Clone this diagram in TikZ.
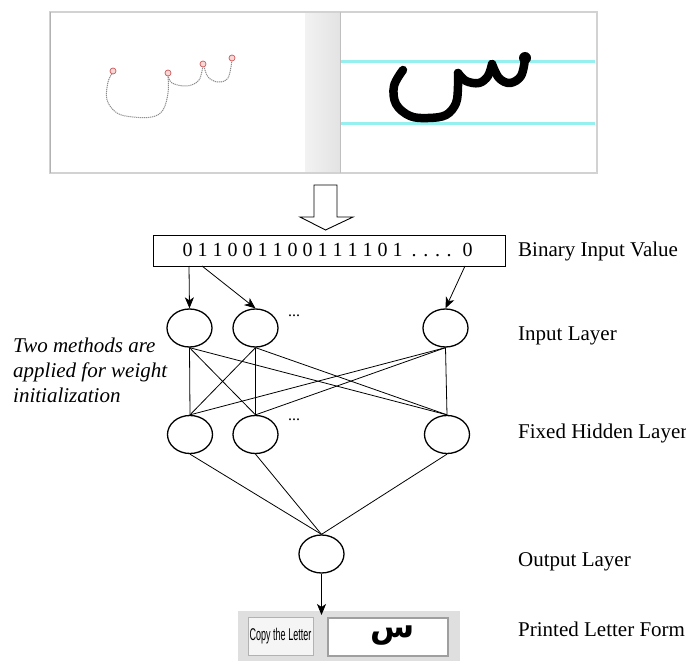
\documentclass[tikz,border=0pt]{standalone}
\usepackage{fontspec}
\setmainfont{Liberation Serif}
\newfontfamily\arabicfont[Script=Arabic]{DejaVu Sans}
\newfontfamily\guifont{Liberation Sans}
\TeXXeTstate=1
\usetikzlibrary{shapes.geometric,arrows.meta}
\definecolor{guideline}{RGB}{150,240,240}
\definecolor{penred}{RGB}{205,90,90}
\definecolor{penpink}{RGB}{250,215,215}
\begin{document}
\begin{tikzpicture}[x=1pt,y=-1pt,
  neuron/.style={draw, ellipse, line width=1.3pt, minimum width=45pt, minimum height=38pt, inner sep=0pt},
  wire/.style={line width=0.8pt},
  feed/.style={line width=0.8pt, -{Stealth[length=11pt,width=9pt,inset=3pt]}},
  lbl/.style={anchor=base west, inner sep=0pt, font=\fontsize{21}{24}\selectfont},
  note/.style={anchor=base west, inner sep=0pt, font=\fontsize{21}{24}\selectfont\itshape},
  dots/.style={anchor=base west, inner sep=0pt, font=\fontsize{16}{18}\selectfont},
  ink/.style={line width=8.5pt, line cap=round, line join=round, black},
  trace/.style={line width=1pt, gray!90, dash pattern=on 1.2pt off 0.8pt},
  penmark/.style={draw=penred, fill=penpink, line width=0.7pt}
]
\useasboundingbox (0,0) rectangle (686,661);

% ---------- top panels ----------
\fill[white] (50,12) rectangle (597,173);
\shade[left color=gray!10, right color=gray!22] (305,12) rectangle (340,173);
\draw[gray!35, line width=1.8pt] (50,12) rectangle (597,173);
\draw[gray!60, line width=1.2pt] (50.5,12) -- (50.5,173);
\draw[gray!50, line width=1pt] (340.5,12) -- (340.5,173);

% guide lines
\draw[guideline, line width=3pt] (341,62) -- (595,62);
\draw[guideline, line width=3pt] (341,123) -- (595,123);

% handwritten letter (right)
\draw[ink] plot[smooth, tension=0.6] coordinates {(403,70) (394,86) (396,104) (410,116) (428,118) (446,115) (456,103) (458,86) (458,73)};
\draw[ink] plot[smooth, tension=0.6] coordinates {(458,73) (466,81) (479,83) (488,76) (492,64)};
\draw[ink] plot[smooth, tension=0.6] coordinates {(492,64) (499,78) (510,83) (521,76) (525,59)};
\fill[black] (525,58) circle (6);

% traced letter (left)
\draw[trace] plot[smooth, tension=0.6] coordinates {(113,72) (108,82) (107,100) (117,113) (133,117) (152,117) (163,110) (168,93) (168,75)};
\draw[trace] plot[smooth, tension=0.6] coordinates {(168,75) (172,83) (187,86) (199,80) (203,65)};
\draw[trace] plot[smooth, tension=0.6] coordinates {(204,66) (208,77) (218,82) (228,78) (232,60)};
\draw[penmark] (113,71) circle (3);
\draw[penmark] (168,73) circle (3);
\draw[penmark] (203,64) circle (3);
\draw[penmark] (232,58) circle (3);

% hollow arrow
\draw[line width=0.9pt, fill=white] (314,185) -- (337,185) -- (337,217) -- (353,217) -- (325.5,230) -- (300,217) -- (314,217) -- cycle;

% ---------- binary input ----------
\node[draw, line width=0.9pt, minimum width=352pt, minimum height=31pt, inner sep=0pt] (bin) at (329,250.5) {};
\node[anchor=base west, inner sep=0pt, font=\fontsize{20}{22}\selectfont] (bits) at (182.5,256)
  {0 1 1 0 0 1 1 0 0 1 1 1 1 0 1\hspace{9pt}. . . .\hspace{11pt}0};
\coordinate (b1) at (189,266);
\coordinate (b2) at (202,266);
\coordinate (b3) at (465,266);

% ---------- network ----------
\node[neuron] (i1) at (189.5,328) {};
\node[neuron] (i2) at (255.5,328) {};
\node[neuron] (i3) at (445.5,328) {};
\node[neuron] (h1) at (190,434.5) {};
\node[neuron] (h2) at (255.5,434.5) {};
\node[neuron] (h3) at (447,434.5) {};
\node[neuron] (o) at (321.5,554) {};
\node[dots] (d1) at (288,316) {...};
\node[dots] (d2) at (288,420) {...};

\draw[feed] (b1) -- (i1.north);
\draw[feed] (b2) -- (i2.north);
\draw[feed] (b3) -- (i3.north);

\foreach \a in {i1,i2,i3}{
  \foreach \b in {h1,h2,h3}{
    \draw[wire] (\a.south) -- (\b.north);
  }
}
\foreach \a in {h1,h2,h3}{
  \draw[wire] (\a.south) -- (o.north);
}

% ---------- output GUI ----------
\node[fill=gray!25, minimum width=222pt, minimum height=50pt, inner sep=0pt] (gui) at (349,636) {};
\node[draw=gray!60, fill=gray!8, line width=0.9pt, minimum width=65pt, minimum height=38pt, inner sep=0pt] (btn) at (280.5,636)
  {\guifont\fontsize{17}{19}\selectfont\scalebox{0.53}[1]{Copy the Letter}};
\node[draw=gray!75, fill=white, line width=1.2pt, minimum width=120pt, minimum height=38pt, inner sep=0pt] (tbox) at (388,637) {};
\node[inner sep=0pt, font=\arabicfont\bfseries\fontsize{32}{34}\selectfont] (letter) at (393,636) {\beginR س\endR};
\coordinate (gin) at (321.5,615);
\draw[feed] (o.south) -- (gin);

% ---------- labels ----------
\node[lbl] (l1) at (518,256) {Binary Input Value};
\node[lbl] (l2) at (518,340) {Input Layer};
\node[lbl] (l3) at (518,438) {Fixed Hidden Layer};
\node[lbl] (l4) at (518,566) {Output Layer};
\node[lbl] (l5) at (518,636) {Printed Letter Form};

\node[note] (t1) at (13,352) {Two methods are};
\node[note] (t2) at (13,377) {applied for weight};
\node[note] (t3) at (13,402) {initialization};
\end{tikzpicture}
\end{document}
